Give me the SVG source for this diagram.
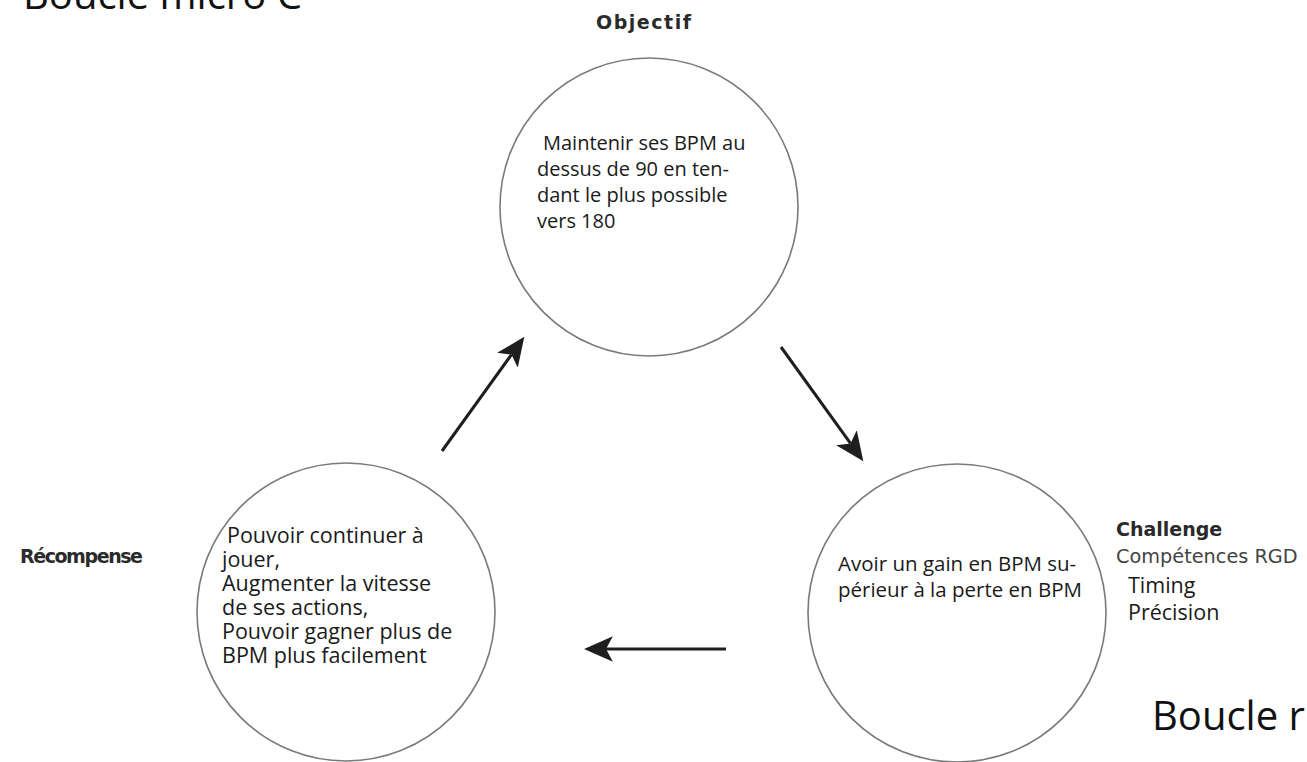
<svg xmlns="http://www.w3.org/2000/svg" width="1307" height="762" viewBox="0 0 1307 762">
<style>
.circ{fill:none;stroke:#7a7a7a;stroke-width:1.6}
.body{font-family:"Open Sans","Liberation Sans",sans-serif;font-size:20.5px;fill:#1a1a1a}
.lab{font-family:"DejaVu Sans","Liberation Sans",sans-serif;font-weight:bold;font-size:19px;fill:#2a2a2a}
.big{font-family:"Open Sans","Liberation Sans",sans-serif;font-size:40px;fill:#111}
.conn{stroke:#1e1e1e;stroke-width:3;fill:none;marker-end:url(#ah)}
</style>
<defs>
<marker id="ah" markerUnits="userSpaceOnUse" markerWidth="30" markerHeight="30" viewBox="0 -12 26 24" refX="6" refY="0" orient="auto">
<path d="M0,-11 L25,0 L0,11 L6,0 Z" fill="#1e1e1e"/>
</marker>
</defs>
<rect width="1307" height="762" fill="#fff"/>
<text class="big" x="23" y="9">Boucle micro C</text>
<text class="big" x="1152" y="730">Boucle r</text>
<g id="objectif">
<circle class="circ" cx="649" cy="207" r="149"/>
<text class="lab" x="596" y="29" textLength="95">Objectif</text>
<text class="body" style="font-size:20px"><tspan x="543" y="150">Maintenir ses BPM au</tspan><tspan x="537" y="176">dessus de 90 en ten-</tspan><tspan x="537" y="202">dant le plus possible</tspan><tspan x="537" y="228">vers 180</tspan></text>
</g>
<g id="recompense">
<circle class="circ" cx="346" cy="612" r="149"/>
<text class="lab" x="20" y="563" textLength="123">Récompense</text>
<text class="body" style="font-size:21.5px"><tspan x="227" y="543">Pouvoir continuer à</tspan><tspan x="222" y="567">jouer,</tspan><tspan x="222" y="591">Augmenter la vitesse</tspan><tspan x="222" y="615">de ses actions,</tspan><tspan x="222" y="639">Pouvoir gagner plus de</tspan><tspan x="222" y="663">BPM plus facilement</tspan></text>
</g>
<g id="challenge">
<circle class="circ" cx="957" cy="613" r="149"/>
<text class="lab" x="1116" y="536">Challenge</text>
<text x="1116" y="563" style="font-family:'DejaVu Sans','Liberation Sans',sans-serif;font-size:19.3px;fill:#444">Compétences RGD</text>
<text class="body" style="font-size:21.5px"><tspan x="1128" y="593">Timing</tspan><tspan x="1128" y="620">Précision</tspan></text>
<text class="body"><tspan x="838" y="571">Avoir un gain en BPM su-</tspan><tspan x="838" y="597">périeur à la perte en BPM</tspan></text>
</g>
<g id="connectors">
<line class="conn" x1="442" y1="451" x2="511.5" y2="354.6"/>
<line class="conn" x1="781" y1="347" x2="850.5" y2="443.4"/>
<line class="conn" x1="726" y1="649" x2="606" y2="649"/>
</g>
</svg>
